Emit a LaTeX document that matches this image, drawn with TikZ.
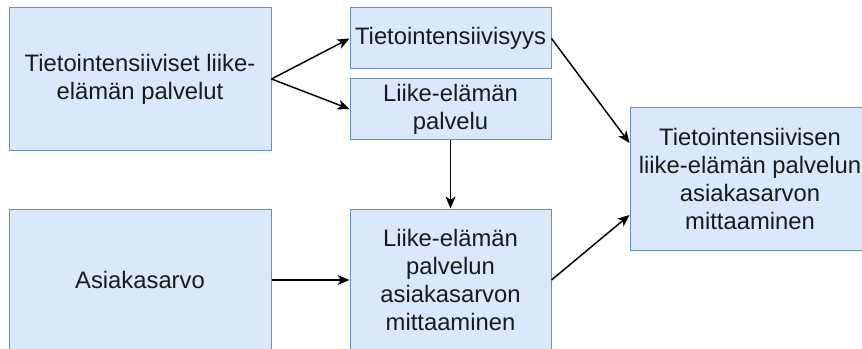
\documentclass[tikz,border=0pt]{standalone}
\usepackage{fontspec}
\setmainfont{Liberation Sans}
\usetikzlibrary{arrows.meta}
\definecolor{boxfill}{HTML}{DAE8FC}
\definecolor{boxdraw}{HTML}{6C8EBF}
\definecolor{txt}{HTML}{1A1A1A}
\tikzset{
  box/.style={draw=boxdraw, fill=boxfill, line width=0.75pt, inner sep=0pt,
    align=center, text=txt, font=\fontsize{17.85}{21}\selectfont},
  conn/.style={draw=black, line width=1.1pt, -{Stealth[length=9pt,width=7.5pt,inset=2.5pt]}},
  line/.style={draw=black, line width=1.1pt}
}
\begin{document}
\begin{tikzpicture}[x=0.75pt,y=-0.75pt]
\useasboundingbox (0,0) rectangle (862,349);
\clip (0,0) rectangle (862,349);
\fill[white] (0,0) rectangle (862,349);
\node[box, minimum width=196.5pt, minimum height=106.5pt] (A) at (140,79) {Tietointensiiviset liike-\\elämän palvelut};
\node[box, minimum width=150.75pt, minimum height=45.75pt] (B) at (450.5,38.5) {Tietointensiivisyys};
\node[box, minimum width=150.75pt, minimum height=45pt] (C) at (450.5,109) {Liike-elämän\\palvelu};
\node[box, minimum width=196.5pt, minimum height=106.5pt] (D) at (140,280) {Asiakasarvo};
\node[box, minimum width=150.75pt, minimum height=106.5pt] (E) at (450.5,280) {Liike-elämän\\palvelun\\asiakasarvon\\mittaaminen};
\node[box, minimum width=180pt, minimum height=106.5pt] (F) at (750,179) {Tietointensiivisen\\liike-elämän palvelun\\asiakasarvon\\mittaaminen};
\draw[conn] (A.east) -- (B.west);
\draw[conn] (A.east) -- (C.west);
\draw[conn] (B.east) -- ([yshift=27pt]F.west);
\draw[conn] (E.east) -- ([yshift=-27pt]F.west);
\draw[conn] (C.south) -- (E.north);
\draw[conn] (D.east) -- (E.west);
\end{tikzpicture}
\end{document}
